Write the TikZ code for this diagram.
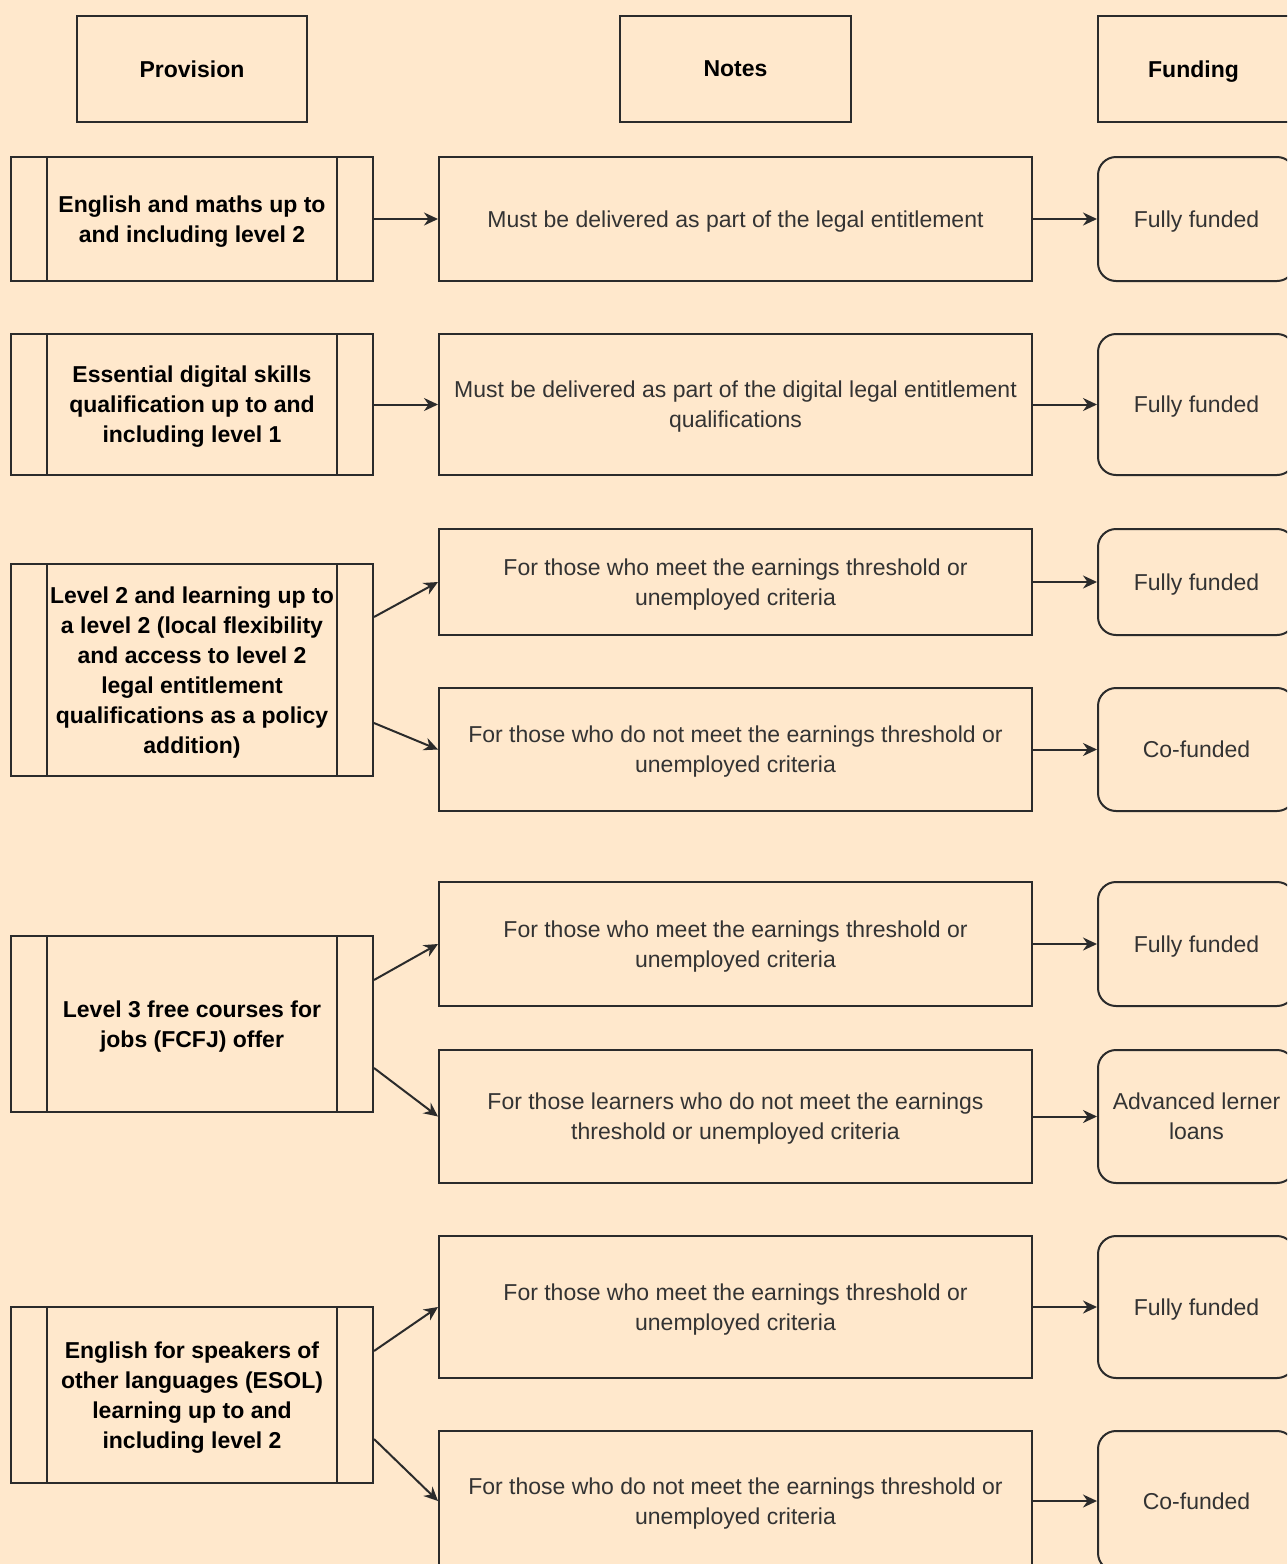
\documentclass[tikz,border=0pt]{standalone}
\usepackage{fontspec}
\setmainfont{Liberation Sans}
\usetikzlibrary{arrows.meta}
\definecolor{pagebg}{HTML}{FFE8CC}
\definecolor{edge}{HTML}{2B2B2B}
\definecolor{txt}{HTML}{333333}
\begin{document}
\begin{tikzpicture}[x=0.5pt,y=-0.5pt,
  every node/.style={font=\fontsize{11.5pt}{15pt}\selectfont, align=center, inner sep=0pt, text depth=0pt},
  headbox/.style={draw=edge, line width=1pt, font=\fontsize{11.5pt}{15pt}\selectfont\bfseries, text=black},
  procbox/.style={draw=edge, line width=1pt, minimum width=181pt,
    font=\fontsize{11.5pt}{15pt}\selectfont\bfseries, text=black,
    path picture={
      \draw[edge, line width=1pt]
        ([xshift=18pt]path picture bounding box.north west) -- ([xshift=18pt]path picture bounding box.south west)
        ([xshift=-18pt]path picture bounding box.north east) -- ([xshift=-18pt]path picture bounding box.south east);
    }},
  notebox/.style={draw=edge, line width=1pt, minimum width=296.5pt, text=txt},
  fundbox/.style={draw=edge, line width=1pt, rounded corners=9pt, minimum width=98.5pt, text=txt},
  link/.style={draw=edge, line width=1pt, -{Stealth[length=7pt,width=6.5pt]}}
]
\useasboundingbox (0,0) rectangle (1287,1564);
\clip (0,0) rectangle (1287,1564);
\fill[pagebg] (0,0) rectangle (1287,1564);

% column headings
\node[headbox, minimum width=115pt, minimum height=53pt] (hprov) at (192,69) {Provision};
\node[headbox, minimum width=115.5pt, minimum height=53pt] (hnotes) at (735.5,69) {Notes};
\node[headbox, minimum width=95.5pt, minimum height=53pt] (hfund) at (1193.5,69) {Funding};

% provision column
\node[procbox, minimum height=62pt] (p1) at (192,219) {English and maths up to\\and including level 2};
\node[procbox, minimum height=70.5pt] (p2) at (192,404.5) {Essential digital skills\\qualification up to and\\including level 1};
\node[procbox, minimum height=106pt] (p3) at (192,670) {Level 2 and learning up to\\a level 2 (local flexibility\\and access to level 2\\legal entitlement\\qualifications as a policy\\addition)};
\node[procbox, minimum height=88pt] (p4) at (192,1024) {Level 3 free courses for\\jobs (FCFJ) offer};
\node[procbox, minimum height=88pt] (p5) at (192,1395) {English for speakers of\\other languages (ESOL)\\learning up to and\\including level 2};

% notes column
\node[notebox, minimum height=62pt] (n1) at (735.5,219) {Must be delivered as part of the legal entitlement};
\node[notebox, minimum height=70.5pt] (n2) at (735.5,404.5) {Must be delivered as part of the digital legal entitlement\\qualifications};
\node[notebox, minimum height=53pt] (n3a) at (735.5,582) {For those who meet the earnings threshold or\\unemployed criteria};
\node[notebox, minimum height=61.5pt] (n3b) at (735.5,749.5) {For those who do not meet the earnings threshold or\\unemployed criteria};
\node[notebox, minimum height=62pt] (n4a) at (735.5,944) {For those who meet the earnings threshold or\\unemployed criteria};
\node[notebox, minimum height=66.5pt] (n4b) at (735.5,1116.5) {For those learners who do not meet the earnings\\threshold or unemployed criteria};
\node[notebox, minimum height=71pt] (n5a) at (735.5,1307) {For those who meet the earnings threshold or\\unemployed criteria};
\node[notebox, minimum height=70pt] (n5b) at (735.5,1501) {For those who do not meet the earnings threshold or\\unemployed criteria};

% funding column
\node[fundbox, minimum height=62pt] (f1) at (1196.5,219) {Fully funded};
\node[fundbox, minimum height=70.5pt] (f2) at (1196.5,404.5) {Fully funded};
\node[fundbox, minimum height=53pt] (f3a) at (1196.5,582) {Fully funded};
\node[fundbox, minimum height=61.5pt] (f3b) at (1196.5,749.5) {Co-funded};
\node[fundbox, minimum height=62pt] (f4a) at (1196.5,944) {Fully funded};
\node[fundbox, minimum height=66.5pt] (f4b) at (1196.5,1116.5) {Advanced lerner\\loans};
\node[fundbox, minimum height=71pt] (f5a) at (1196.5,1307) {Fully funded};
\node[fundbox, minimum height=70pt] (f5b) at (1196.5,1501) {Co-funded};

% provision -> notes
\draw[link] (p1.east) -- (n1.west);
\draw[link] (p2.east) -- (n2.west);
\draw[link] ([yshift=26.5pt]p3.east) -- (n3a.west);
\draw[link] ([yshift=-26.5pt]p3.east) -- (n3b.west);
\draw[link] ([yshift=22pt]p4.east) -- (n4a.west);
\draw[link] ([yshift=-22pt]p4.east) -- (n4b.west);
\draw[link] ([yshift=22pt]p5.east) -- (n5a.west);
\draw[link] ([yshift=-22pt]p5.east) -- (n5b.west);

% notes -> funding
\draw[link] (n1.east) -- (f1.west);
\draw[link] (n2.east) -- (f2.west);
\draw[link] (n3a.east) -- (f3a.west);
\draw[link] (n3b.east) -- (f3b.west);
\draw[link] (n4a.east) -- (f4a.west);
\draw[link] (n4b.east) -- (f4b.west);
\draw[link] (n5a.east) -- (f5a.west);
\draw[link] (n5b.east) -- (f5b.west);
\end{tikzpicture}
\end{document}
